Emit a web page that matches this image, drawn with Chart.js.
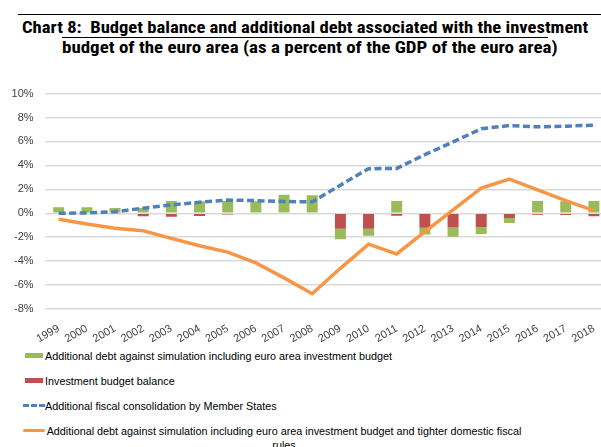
<!DOCTYPE html>
<html>
<head>
<meta charset="utf-8">
<script src="https://cdn.jsdelivr.net/npm/chart.js@4/dist/chart.umd.min.js"></script>
<style>
  html, body { margin: 0; padding: 0; background: #fff; overflow: hidden; }
  #page { position: relative; width: 601px; height: 447px; overflow: hidden; font-family: "Liberation Sans", Arial, sans-serif; }
  .rule { position: absolute; height: 0; border-top: 1.5px solid #000; }
  .title { position: absolute; white-space: nowrap;
           font-family: "Liberation Sans Narrow", "Arial Narrow", "Roboto Condensed", sans-serif;
           font-weight: bold; font-size: 16.5px; line-height: 20px; color: #000; transform-origin: 0 50%; }
  #chartBox { position: absolute; left: 0; top: 76px; width: 612px; height: 273px; }
  .leg { position: absolute; left: 0; font-size: 10.8px; line-height: 14px; color: #000; }
  .leg .sym { position: absolute; }
  .leg .txt { position: absolute; left: 45px; top: 0; }
</style>
</head>
<body>
<div id="page">
  <div class="rule" style="left:18px; top:14px; width:600px;"></div>
  <div class="title" id="t1" style="top:18px;">Chart 8:&nbsp; Budget balance and additional debt associated with the investment</div>
  <div class="rule" style="left:62px; top:37px; width:486px;"></div>
  <div class="title" id="t2" style="top:38px;">budget of the euro area (as a percent of the GDP of the euro area)</div>

  <div id="chartBox"><canvas id="chart"></canvas></div>

  <div id="legend"></div>
</div>

<script>
// ── Data ─────────────────────────────────────────────────────
const years = ["1999", "2000", "2001", "2002", "2003", "2004", "2005", "2006", "2007", "2008",
               "2009", "2010", "2011", "2012", "2013", "2014", "2015", "2016", "2017", "2018"];

// Additional debt against simulation including euro area investment budget (bars)
const addDebt = [0.5, 0.5, 0.45, 0.45, 1.03, 1.0, 1.03, 1.0, 1.54, 1.5,
                 -0.89, -0.59, 1.03, -0.57, -0.78, -0.59, -0.42, 1.03, 1.0, 1.03];

// Investment budget balance (bars)
const invBalance = [0, 0, -0.05, -0.25, -0.3, -0.22, -0.1, 0, 0, 0,
                    -1.29, -1.29, -0.2, -1.2, -1.18, -1.15, -0.4, -0.12, -0.15, -0.25];

// Additional fiscal consolidation by Member States (dashed line)
const consolidation = [0, 0.03, 0.13, 0.42, 0.7, 0.92, 1.1, 1.06, 0.98, 0.95,
                       2.35, 3.72, 3.75, 4.9, 5.96, 7.06, 7.33, 7.22, 7.28, 7.36];

// Additional debt incl. investment budget and tighter domestic fiscal rules (solid line)
const tighterRules = [-0.5, -0.9, -1.26, -1.46, -2.1, -2.72, -3.25, -4.15, -5.4, -6.72,
                      -4.6, -2.58, -3.4, -1.54, 0.28, 2.1, 2.85, 1.96, 1.06, 0.22];

const yTicks = [-8, -6, -4, -2, 0, 2, 4, 6, 8, 10];

const legendItems = [
    { label: "Additional debt against simulation including euro area investment budget", kind: "box", color: "#9BBB59" },
    { label: "Investment budget balance", kind: "box", color: "#C0504D" },
    { label: "Additional fiscal consolidation by Member States", kind: "dash", color: "#4F81BD" },
    { label: "Additional debt against simulation including euro area investment budget and tighter domestic fiscal rules", kind: "line", color: "#F79646" },
];

// ── Title (stretch the narrow font to the reference line widths) ──
const fitTitle = (id, left, width) => {
    const el = document.getElementById(id);
    el.style.left = `${left}px`;
    el.style.transform = `scaleX(${width / el.offsetWidth})`;
};
fitTitle("t1", 22, 566);
fitTitle("t2", 62, 495);

// ── Chart ────────────────────────────────────────────────────
const ctx = document.getElementById("chart").getContext("2d");
const tickFont = { family: "'Liberation Sans', Arial, sans-serif", size: 11 };

new Chart(ctx, {
    type: "bar",
    data: {
        labels: years,
        datasets: [
            {
                type: "line", label: legendItems[2].label, data: consolidation, stack: "blue", order: 0,
                borderColor: "#4F81BD", borderWidth: 3.5, borderDash: [7, 3.5], pointRadius: 0, tension: 0, fill: false
            },
            {
                type: "line", label: legendItems[3].label, data: tighterRules, stack: "orange", order: 0,
                borderColor: "#F79646", borderWidth: 3.5, pointRadius: 0, tension: 0, fill: false
            },
            {
                label: legendItems[1].label, data: invBalance, stack: "bars", order: 1,
                backgroundColor: "#C0504D", barPercentage: 0.39, categoryPercentage: 1
            },
            {
                label: legendItems[0].label, data: addDebt, stack: "bars", order: 2,
                backgroundColor: "#9BBB59", barPercentage: 0.39, categoryPercentage: 1
            }
        ]
    },
    options: {
        responsive: true,
        maintainAspectRatio: false,
        animation: false,
        layout: { padding: { top: 10, right: 4, left: 0, bottom: 0 } },
        plugins: { legend: { display: false }, tooltip: { enabled: false } },
        scales: {
            x: {
                stacked: true,
                grid: { display: false },
                border: { display: false },
                ticks: { color: "#404040", font: tickFont, minRotation: 30, maxRotation: 30, autoSkip: false, padding: 5 },
                afterFit: s => { s.height = 40; }
            },
            y: {
                stacked: true,
                min: yTicks[0],
                max: yTicks[yTicks.length - 1],
                afterBuildTicks: s => { s.ticks = yTicks.map(v => ({ value: v })); },
                grid: { color: "#D9D9D9", lineWidth: 1.5, drawTicks: false },
                border: { display: false },
                ticks: { color: "#404040", font: tickFont, padding: 11, callback: v => `${v}%` },
                afterFit: s => { s.width = 44.6; }
            }
        }
    }
});

// ── Legend ───────────────────────────────────────────────────
const legendTops = [349, 374, 399, 424];
const legendEl = document.getElementById("legend");
legendItems.forEach((item, i) => {
    const row = document.createElement("div");
    row.className = "leg";
    row.style.top = `${legendTops[i]}px`;
    row.style.width = "601px";
    let sym;
    if (item.kind === "box") {
        sym = `<div class="sym" style="left:25px; top:4px; width:18px; height:5px; background:${item.color};"></div>`;
    } else if (item.kind === "dash") {
        sym = `<div class="sym" style="left:23px; top:5px; width:22px; height:0; border-top:3px dashed ${item.color};"></div>`;
    } else {
        sym = `<div class="sym" style="left:23px; top:5px; width:22px; height:3px; background:${item.color}; border-radius:1.5px;"></div>`;
    }
    const txtStyle = i === 3 ? "width:478px; text-align:center;" : "white-space:nowrap;";
    row.innerHTML = `${sym}<div class="txt" style="${txtStyle}">${item.label}</div>`;
    legendEl.appendChild(row);
});
</script>
</body>
</html>
